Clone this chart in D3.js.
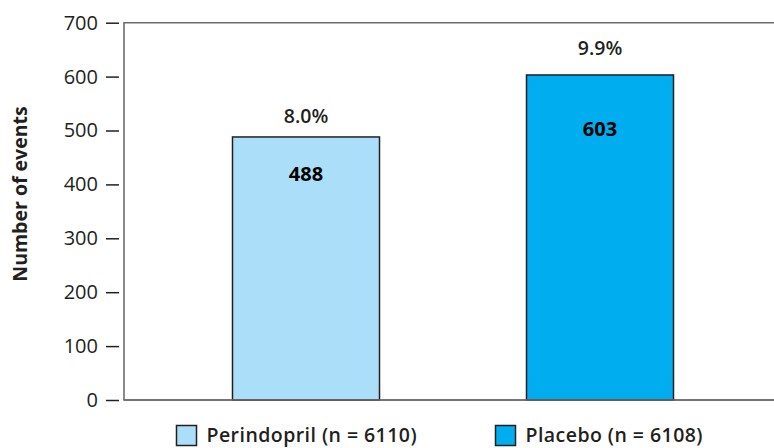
<!DOCTYPE html>
<html>
<head>
<meta charset="utf-8">
<script src="https://cdn.jsdelivr.net/npm/d3@7/dist/d3.min.js"></script>
<style>
  html, body { margin: 0; padding: 0; background: #fff; }
  svg { display: block; font-family: "Open Sans", "DejaVu Sans", sans-serif; }
</style>
</head>
<body>
<svg id="chart" width="774" height="448"></svg>
<script>
// ---- data ----
const categories = ["Perindopril (n = 6110)", "Placebo (n = 6108)"];
const events = [488, 603];
const percents = ["8.0%", "9.9%"];
const yTicks = [0, 100, 200, 300, 400, 500, 600, 700];
const colors = ["#abdff9", "#00aeef"];

const svg = d3.select("#chart");
const W = 774, H = 448;
const frameLeft = 124, plotTop = 22.7, plotBottom = 400;
const font = "'Open Sans', sans-serif";

const y = d3.scaleLinear().domain([0, 700]).range([plotBottom, plotTop]);
const x = d3.scaleBand().domain(categories).range([85.5, 820.5])
  .paddingInner(0.5).paddingOuter(0.5);

// frame: top, left and bottom lines
svg.append("path")
  .attr("d", `M${W},${y(700)}H${frameLeft}V${y(0)}H${W}`)
  .attr("stroke", "#6d6d6d").attr("stroke-width", 1.6).attr("fill", "none");

// bars
svg.append("g").selectAll("rect").data(categories).join("rect")
  .attr("x", d => x(d))
  .attr("y", (d, i) => y(events[i]))
  .attr("width", x.bandwidth())
  .attr("height", (d, i) => y(0) - y(events[i]))
  .attr("fill", (d, i) => colors[i])
  .attr("stroke", "#231f20")
  .attr("stroke-width", 1.5);

// baseline over bars
svg.append("line").attr("x1", frameLeft).attr("x2", W).attr("y1", y(0)).attr("y2", y(0))
  .attr("stroke", "#6d6d6d").attr("stroke-width", 1.6);

// y axis (ticks detached from frame)
const axis = d3.axisLeft(y).tickValues(yTicks).tickSize(13).tickPadding(8);
const ag = svg.append("g").attr("transform", "translate(119,0)").call(axis);
ag.select(".domain").remove();
ag.selectAll(".tick line").attr("stroke", "#231f20").attr("stroke-width", 1.5);
ag.selectAll(".tick text").attr("fill", "#231f20")
  .style("font-size", "20px").style("font-family", font);

// y axis title
svg.append("text")
  .attr("transform", "translate(27,194) rotate(-90)")
  .attr("text-anchor", "middle")
  .attr("fill", "#231f20")
  .style("font-size", "19.5px").style("font-weight", "bold")
  .text("Number of events");

// percent labels above bars
const pctOff = [14, 20];
const innerOff = [44.5, 61.5];
svg.append("g").selectAll("text").data(categories).join("text")
  .attr("x", d => x(d) + x.bandwidth() / 2)
  .attr("y", (d, i) => y(events[i]) - pctOff[i])
  .attr("text-anchor", "middle")
  .attr("fill", "#231f20")
  .style("font-size", "19.5px").style("font-weight", "600")
  .text((d, i) => percents[i]);

// counts inside bars
svg.append("g").selectAll("text").data(categories).join("text")
  .attr("x", d => x(d) + x.bandwidth() / 2)
  .attr("y", (d, i) => y(events[i]) + innerOff[i])
  .attr("text-anchor", "middle")
  .attr("fill", "#000")
  .style("font-size", "20px").style("font-weight", "bold")
  .text((d, i) => events[i]);

// legend
const legendX = [176.5, 495.5];
const lg = svg.append("g").selectAll("g").data(categories).join("g")
  .attr("transform", (d, i) => `translate(${legendX[i]},425.5)`);
lg.append("rect").attr("width", 20).attr("height", 20)
  .attr("fill", (d, i) => colors[i]).attr("stroke", "#231f20").attr("stroke-width", 1.5);
lg.append("text").attr("x", 30).attr("y", 16.5)
  .attr("fill", "#231f20")
  .style("font-size", "19.5px").style("font-weight", "600")
  .style("letter-spacing", "0.45px")
  .text(d => d);
</script>
</body>
</html>
